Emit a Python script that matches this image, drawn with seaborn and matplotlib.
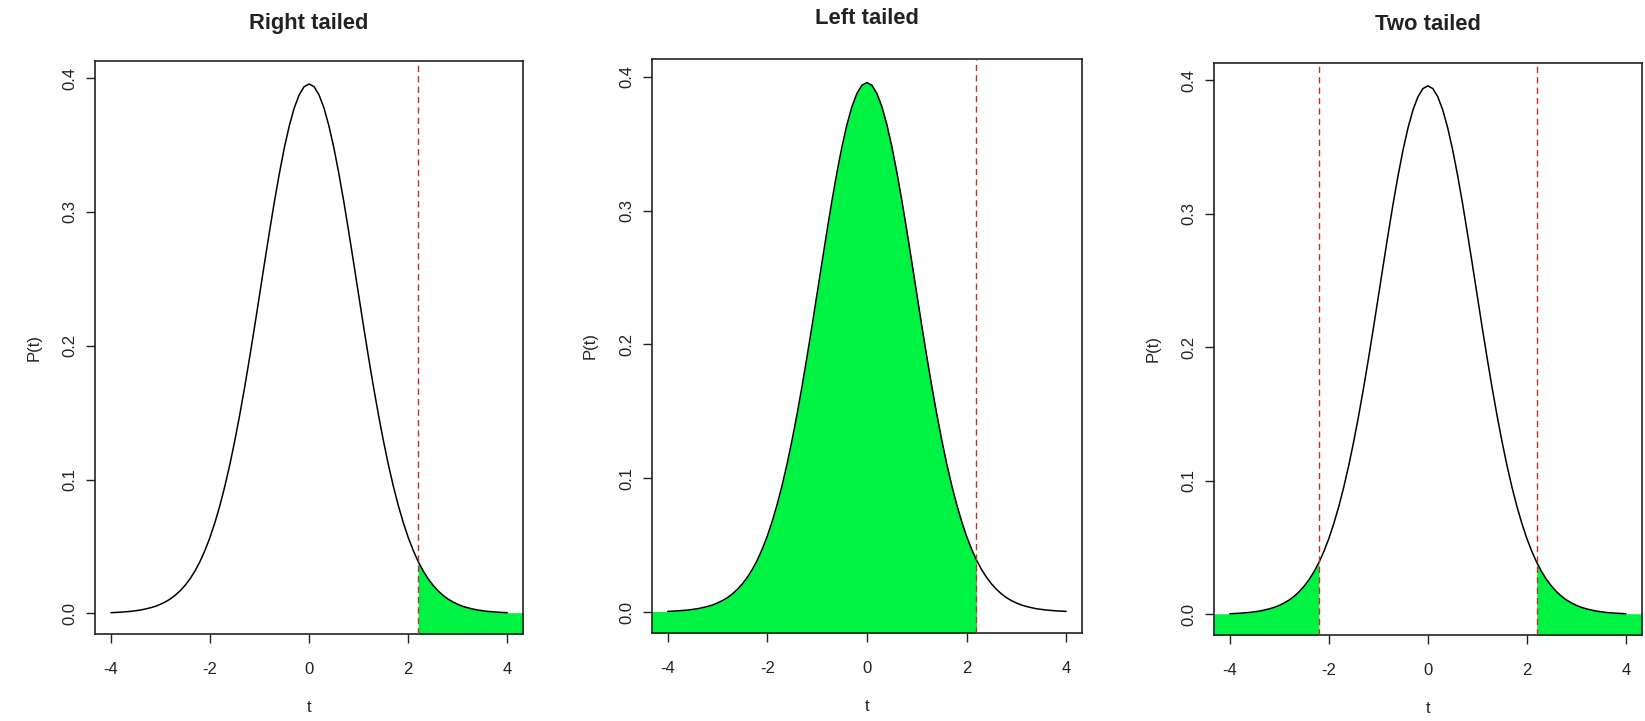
import numpy as np
import matplotlib
matplotlib.use("Agg")
import matplotlib.pyplot as plt
import seaborn as sns

# density of the t statistic (step 0.1)
t_values = [-4.0, -3.9, -3.8, -3.7, -3.6, -3.5, -3.4, -3.3, -3.2, -3.1,
            -3.0, -2.9, -2.8, -2.7, -2.6, -2.5, -2.4, -2.3, -2.2, -2.1,
            -2.0, -1.9, -1.8, -1.7, -1.6, -1.5, -1.4, -1.3, -1.2, -1.1,
            -1.0, -0.9, -0.8, -0.7, -0.6, -0.5, -0.4, -0.3, -0.2, -0.1,
            0.0, 0.1, 0.2, 0.3, 0.4, 0.5, 0.6, 0.7, 0.8, 0.9,
            1.0, 1.1, 1.2, 1.3, 1.4, 1.5, 1.6, 1.7, 1.8, 1.9,
            2.0, 2.1, 2.2, 2.3, 2.4, 2.5, 2.6, 2.7, 2.8, 2.9,
            3.0, 3.1, 3.2, 3.3, 3.4, 3.5, 3.6, 3.7, 3.8, 3.9, 4.0]
density = [0.0005, 0.0007, 0.0009, 0.0012, 0.0015, 0.0020, 0.0025, 0.0033, 0.0042, 0.0053,
           0.0068, 0.0086, 0.0108, 0.0136, 0.0170, 0.0211, 0.0260, 0.0319, 0.0389, 0.0472,
           0.0568, 0.0680, 0.0807, 0.0951, 0.1112, 0.1290, 0.1484, 0.1692, 0.1913, 0.2143,
           0.2380, 0.2618, 0.2852, 0.3078, 0.3288, 0.3479, 0.3643, 0.3777, 0.3875, 0.3936,
           0.3956, 0.3936, 0.3875, 0.3777, 0.3643, 0.3479, 0.3288, 0.3078, 0.2852, 0.2618,
           0.2380, 0.2143, 0.1913, 0.1692, 0.1484, 0.1290, 0.1112, 0.0951, 0.0807, 0.0680,
           0.0568, 0.0472, 0.0389, 0.0319, 0.0260, 0.0211, 0.0170, 0.0136, 0.0108, 0.0086,
           0.0068, 0.0053, 0.0042, 0.0033, 0.0025, 0.0020, 0.0015, 0.0012, 0.0009, 0.0007, 0.0005]
critical_t = 2.2

panel_titles = ["Right tailed", "Left tailed", "Two tailed"]
x_ticks = [-4, -2, 0, 2, 4]
y_ticks = [0.0, 0.1, 0.2, 0.3, 0.4]

sns.set_style("white")
plt.rcParams["font.family"] = ["Liberation Sans", "DejaVu Sans"]

green = "#00F342"
red = "#C03030"
ink = "#222222"
xlim = (-4.32, 4.32)
ylim = (-0.0154, 0.413)

x = np.array(t_values)
y = np.array(density)

fig = plt.figure(figsize=(16.45, 7.21), dpi=100)
boxes = [[0.0578, 0.1207, 0.2602, 0.7951],
         [0.3962, 0.1225, 0.2616, 0.7953],
         [0.7380, 0.1193, 0.2600, 0.7938]]
title_y = [23, 19, 25]


def tail(mask, edge):
    # region under the curve, carried out to the plot edge
    xs, ys = x[mask], y[mask]
    if edge > 0:
        return np.append(xs, xlim[1]), np.append(ys, ys[-1])
    return np.insert(xs, 0, xlim[0]), np.insert(ys, 0, ys[0])


for i, (box, title) in enumerate(zip(boxes, panel_titles)):
    ax = fig.add_axes(box)

    if i == 0:
        fills = [tail(x >= critical_t, 1)]
        cuts = [critical_t]
    elif i == 1:
        fills = [tail(x <= critical_t, -1)]
        cuts = [critical_t]
    else:
        fills = [tail(x <= -critical_t, -1), tail(x >= critical_t, 1)]
        cuts = [-critical_t, critical_t]

    for fx, fy in fills:
        ax.fill_between(fx, ylim[0] - 0.01, fy, color=green, lw=0, zorder=1)

    sns.lineplot(x=x, y=y, color="black", lw=1.1, ax=ax, zorder=3)
    ax.lines[-1].set_solid_joinstyle("round")

    for c in cuts:
        ax.axvline(c, color=red, lw=1.0, ls=(0, (4.5, 3)), zorder=4)

    ax.set_xlim(*xlim)
    ax.set_ylim(*ylim)
    ax.set_xticks(x_ticks)
    ax.set_xticklabels([str(v) for v in x_ticks])
    ax.set_yticks(y_ticks)
    ax.set_yticklabels([f"{v:.1f}" for v in y_ticks], rotation=90, va="center")
    ax.tick_params(axis="both", which="both", direction="out", length=6.5, width=1,
                   bottom=True, left=True, color=ink, labelsize=12, labelcolor=ink)
    ax.tick_params(axis="x", pad=14)
    ax.tick_params(axis="y", pad=6)
    for s in ax.spines.values():
        s.set_color(ink)
        s.set_linewidth(1.2)

    ax.set_xlabel("t", fontsize=12, color=ink)
    ax.set_ylabel("P(t)", fontsize=12, color=ink)
    ax.xaxis.set_label_coords(0.5, -0.115)
    ax.yaxis.set_label_coords(-0.125, 0.5)

    cx = box[0] + box[2] / 2
    fig.text(cx, 1 - title_y[i] / 721, title, ha="center", va="center",
             fontsize=15.8, fontweight="bold", color=ink)

fig.savefig("out.png", dpi=100)
